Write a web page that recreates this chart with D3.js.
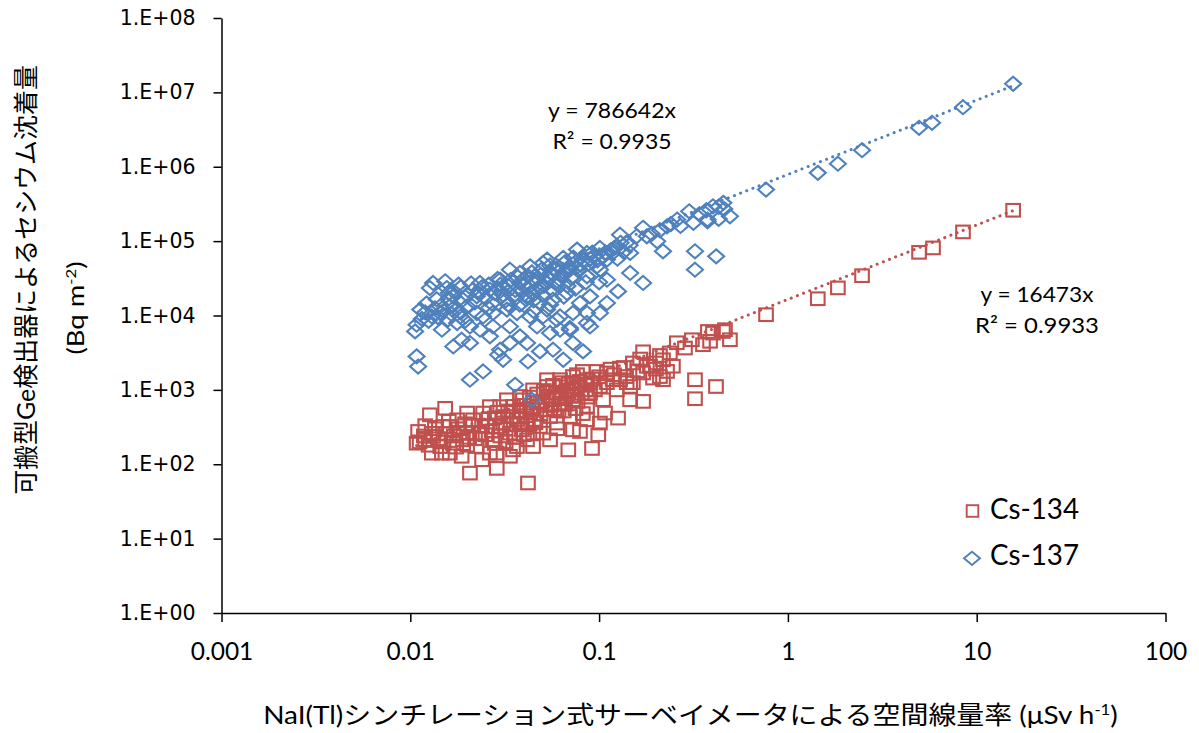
<!DOCTYPE html>
<html>
<head>
<meta charset="utf-8">
<script src="https://cdn.jsdelivr.net/npm/d3@7"></script>
<style>
  body { margin: 0; background: #fff; }
</style>
</head>
<body>
<div id="chart"></div>
<script>
// dose rate (uSv/h) vs deposition (Bq/m2)
var cs134 = [
  [0.0108,192],[0.0110,276],[0.0127,462],[0.0153,565],[0.0132,237],[0.0147,141],[0.0162,322],[0.0207,76],[0.0187,128],[0.0240,115],
  [0.0287,88],[0.0287,141],[0.0420,56],[0.0350,156],[0.0447,173],[0.0687,156],[0.0917,163],[0.0990,249],[0.0792,276],[0.126,417],
  [0.146,736],[0.171,700],[0.1075,488],[0.322,1370],[0.416,1110],[0.322,760],[0.218,1370],[0.171,3250],[0.171,1690],[0.200,2300],
  [0.237,3140],[0.258,4300],[0.310,4720],[0.355,4050],[0.401,5800],[0.464,6440],[0.493,4720],[0.387,4500],[0.285,3650],[0.129,1960],
  [0.151,2300],[0.139,1510],[0.118,1370],[0.101,1110],[0.0863,1370],[0.0764,1600],[0.0621,1370],[0.0530,1110],[0.0621,815],[0.0727,736],
  [0.0863,600],[0.0486,540],[0.0395,736],[0.0350,438],[0.0299,595],[0.0243,488],[0.0215,396],[0.0234,262],[0.0190,213],[0.0168,192],
  [0.0274,213],[0.0337,262],[0.0415,213],[0.0505,262],[0.0598,358],[0.0701,438],[0.0863,396],[0.101,358],[0.0486,322],[0.0381,358],
  [0.0299,322],[0.0225,173],[0.0144,173],[0.0130,141],[0.0120,213],[0.0621,665],[0.0676,1000],[0.0764,1110],[0.0895,905],[0.105,736],
  [0.124,1000],[0.129,1370],[0.110,1690],[0.097,1770],[0.082,1770],[0.0727,1510],[0.0530,1370],[0.0447,1000],[0.0381,815],[0.0325,736],
  [0.0264,595],[0.0200,488],[0.0177,396],[0.0149,322],[0.0255,322],[0.0310,438],[0.0431,488],[0.0550,438],[0.0570,736],[0.0469,665],
  [0.151,1250],[0.179,2080],[0.218,2540],[0.246,2080],[0.193,1440],[0.146,1110],[0.0367,173],[0.0550,213],[0.0727,290],[0.0447,262],
  [0.0200,262],[0.0162,141],[0.0264,141],[0.0337,128],[0.210,1510],[0.229,1770],[0.186,2080],[0.453,6100],[0.377,6100],
  [0.058,560],[0.065,520],[0.075,560],[0.082,480],[0.045,400],[0.052,620],[0.068,880],[0.085,1000],[0.09,1250],[0.072,1250],
  [0.062,1100],[0.038,520],[0.028,420],[0.032,300],[0.042,340],[0.036,230],[0.025,250],[0.018,300],[0.022,220],
  [0.024,330],[0.026,410],[0.027,280],[0.029,500],[0.03,240],[0.031,360],[0.033,520],[0.034,340],[0.035,600],[0.037,400],
  [0.039,290],[0.04,620],[0.041,450],[0.043,800],[0.044,560],[0.046,360],[0.047,880],[0.049,470],[0.05,700],[0.051,980],
  [0.053,540],[0.054,820],[0.056,620],[0.057,1150],[0.059,900],[0.061,520],[0.063,760],[0.064,1250],[0.066,640],[0.067,960],
  [0.069,1200],[0.071,820],[0.074,1000],[0.077,700],[0.079,1300],[0.081,900],[0.084,1150],[0.087,800],[0.092,1400],[0.095,1000],
  [0.1,1500],[0.11,1250],[0.115,1900],[0.12,1600],[0.135,2000],[0.14,1250],[0.16,1800],[0.165,2600],[0.2,1900],[0.21,2900],
  [0.02,180],[0.021,330],[0.017,240],[0.015,200],[0.013,260],[0.028,190],[0.032,200],[0.04,250],[0.06,300],
  [0.0112,200],[0.0118,240],[0.0125,180],[0.0135,300],[0.014,220],[0.0155,260],[0.016,380],[0.0175,170],[0.0182,260],[0.0195,350],
  [0.0205,230],[0.012,330],
  [0.766,10250],[1.44,16800],[1.84,23500],[2.47,34300],[4.95,70700],[5.87,81000],[8.46,133000],[15.6,260000]
];

var cs137 = [
  [0.0110,2060],[0.0108,2820],[0.0106,6110],[0.0108,7520],[0.0113,12000],[0.0127,23400],[0.0132,27400],[0.0153,28800],[0.0156,23400],[0.0169,18100],
  [0.0144,13300],[0.0130,9720],[0.0147,6440],[0.0169,3840],[0.0207,4270],[0.0187,4720],[0.0207,1370],[0.0243,1770],[0.0292,2970],[0.0310,2540],
  [0.0359,1170],[0.0420,2410],[0.0440,736],[0.0486,3290],[0.0646,2540],[0.0822,3290],[0.057,3470],[0.0621,6440],[0.0701,6440],[0.0895,7130],
  [0.101,10800],[0.0863,10800],[0.0727,10800],[0.0598,8780],[0.0505,9720],[0.0415,4270],[0.0381,5240],[0.0337,4270],[0.0299,3470],[0.0264,5240],
  [0.0234,6440],[0.0207,7130],[0.0184,9720],[0.0200,13300],[0.0225,18100],[0.0264,22200],[0.0299,30300],[0.0337,41300],[0.0381,37300],[0.0431,45800],
  [0.0505,50900],[0.0530,56400],[0.0646,59400],[0.0764,76900],[0.0863,69400],[0.101,81000],[0.129,122000],[0.124,85200],[0.146,69400],[0.171,151000],
  [0.179,116000],[0.203,99400],[0.218,72900],[0.229,158000],[0.259,195000],[0.30,252000],[0.316,176000],[0.375,195000],[0.401,294000],[0.455,327000],
  [0.493,216000],[0.322,72900],[0.417,62400],[0.322,41300],[0.171,27400],[0.146,37300],[0.126,21100],[0.110,30300],[0.101,41300],[0.0895,18100],
  [0.110,14700],[0.0792,14700],[0.0676,20100],[0.057,16300],[0.0486,14700],[0.0415,18100],[0.0350,18100],[0.0325,12000],[0.0274,10800],[0.0243,9720],
  [0.0274,7130],[0.0469,7130],[0.053,12000],[0.0621,30300],[0.0727,33600],[0.0863,33600],[0.0975,45800],[0.110,56400],[0.118,69400],[0.139,94600],
  [0.158,116000],[0.0447,30300],[0.053,33600],[0.0381,27400],[0.031,24600],[0.0234,27400],[0.0215,22200],[0.019,16300],[0.0162,13300],[0.0144,10800],
  [0.0177,7930],[0.0225,10800],[0.0367,10800],[0.0431,9720],[0.055,5820],[0.0727,4270],[0.0863,7930],[0.0621,9720],[0.0337,7130],[0.0701,6790],
  [0.028,20000],[0.032,16000],[0.036,22000],[0.04,26000],[0.044,20000],[0.048,24000],[0.052,28000],[0.056,22000],[0.06,26000],[0.065,38000],
  [0.07,44000],[0.075,52000],[0.08,48000],[0.09,58000],[0.095,64000],[0.024,24000],[0.02,19000],[0.017,21000],[0.03,26000],[0.034,30000],
  [0.042,34000],[0.038,14000],[0.045,16000],[0.05,19000],[0.058,42000],[0.068,25000],[0.078,40000],[0.085,28000],[0.105,62000],[0.115,75000],
  [0.125,58000],[0.135,72000],[0.145,88000],[0.19,125000],[0.21,140000],[0.24,170000],[0.27,160000],[0.34,230000],[0.37,260000],[0.43,290000],
  [0.46,270000],[0.43,199000],[0.375,185000],
  [0.022,15000],[0.023,20000],[0.025,17000],[0.026,26000],[0.027,14500],[0.029,23000],[0.031,19000],[0.033,25000],[0.033,14000],[0.035,28000],
  [0.036,17000],[0.037,33000],[0.039,21000],[0.04,31000],[0.041,16500],[0.043,25000],[0.044,38000],[0.046,29000],[0.047,22000],[0.049,35000],
  [0.05,42000],[0.051,25000],[0.054,31000],[0.055,47000],[0.057,36000],[0.059,28000],[0.061,45000],[0.063,34000],[0.066,52000],[0.069,40000],
  [0.071,32000],[0.073,60000],[0.076,45000],[0.082,55000],[0.088,50000],[0.092,70000],[0.098,55000],[0.108,70000],[0.12,80000],[0.13,95000],
  [0.018,26000],[0.016,17000],[0.021,27000],[0.026,12500],[0.029,31000],[0.045,11500],[0.055,14000],[0.065,18000],[0.075,23000],[0.1,28000],
  [0.0115,9000],[0.012,11000],[0.0125,8500],[0.0135,12500],[0.014,9500],[0.015,11500],[0.0158,8800],[0.0165,10500],[0.0175,12000],[0.0185,11000],
  [0.0195,8500],[0.0122,14500],[0.0138,16500],[0.016,20000],[0.0185,24000],
  [0.766,493000],[1.44,828000],[1.84,1100000],[2.47,1670000],[4.95,3340000],[5.80,3900000],[8.46,6320000],[15.6,13060000]
];

var seriesNames = ["Cs-134", "Cs-137"];
var slopes = [16473, 786642];          // trendline y = a x
var rSquared = ["0.9933", "0.9935"];
var xTicks = [0.001, 0.01, 0.1, 1, 10, 100];
var xTickLabels = ["0.001", "0.01", "0.1", "1", "10", "100"];
var yTicks = [1, 10, 100, 1e3, 1e4, 1e5, 1e6, 1e7, 1e8];
var yTickLabels = ["1.E+00", "1.E+01", "1.E+02", "1.E+03", "1.E+04", "1.E+05", "1.E+06", "1.E+07", "1.E+08"];

var colors = ["#C0504D", "#4F81BD"];
var latin = "Lato, 'Noto Sans CJK JP', sans-serif";

var W = 1199, H = 733;
var svg = d3.select("#chart").append("svg")
  .attr("width", W).attr("height", H);

var x = d3.scaleLog().domain([0.001, 100]).range([221.5, 1165.5]);
var y = d3.scaleLog().domain([1, 1e8]).range([613, 18]);

// stretch a text horizontally so it spans a given width
function fitWidth(sel, target) {
  var w = sel.node().getBBox().width;
  sel.attr("transform", "scale(" + (target / w) + ",1)");
}

// axes
var yAxis = svg.append("g")
  .attr("transform", "translate(" + x.range()[0] + ",0)")
  .call(d3.axisLeft(y).tickValues(yTicks)
    .tickFormat(function(d, i) { return yTickLabels[i]; })
    .tickSize(8).tickSizeOuter(0).tickPadding(18));
yAxis.selectAll("text")
  .style("font-family", "'DejaVu Sans', Verdana, sans-serif")
  .style("font-size", "20.5px")
  .attr("fill", "#000");

var xAxis = svg.append("g")
  .attr("transform", "translate(0," + y.range()[0] + ")")
  .call(d3.axisBottom(x).tickValues(xTicks)
    .tickFormat(function(d, i) { return xTickLabels[i]; })
    .tickSize(9).tickSizeOuter(0));
xAxis.selectAll("text")
  .attr("y", 47).attr("dy", "0")
  .style("font-family", latin)
  .style("font-size", "24.5px")
  .attr("fill", "#000");

svg.selectAll(".domain, .tick line")
  .attr("stroke", "#000")
  .attr("stroke-width", 1.5);

// scatter markers
var plot = svg.append("g");

plot.append("g").selectAll("rect")
  .data(cs134)
  .enter().append("rect")
    .attr("x", function(d) { return x(d[0]) - 6.8; })
    .attr("y", function(d) { return y(d[1]) - 6.3; })
    .attr("width", 13.6)
    .attr("height", 12.6)
    .attr("fill", "none")
    .attr("stroke", colors[0])
    .attr("stroke-width", 2.1);

plot.append("g").selectAll("path")
  .data(cs137)
  .enter().append("path")
    .attr("d", function(d) {
      var cx = x(d[0]), cy = y(d[1]);
      return "M" + cx + "," + (cy - 7) + "L" + (cx + 8) + "," + cy +
             "L" + cx + "," + (cy + 7) + "L" + (cx - 8) + "," + cy + "Z";
    })
    .attr("fill", "none")
    .attr("stroke", colors[1])
    .attr("stroke-width", 2.1);

// linear trendlines through origin (straight on log-log)
[cs134, cs137].forEach(function(data, i) {
  var ext = d3.extent(data, function(d) { return d[0]; });
  var line = d3.line()
    .x(function(v) { return x(v); })
    .y(function(v) { return y(slopes[i] * v); });
  plot.append("path")
    .datum(ext)
    .attr("d", line)
    .attr("fill", "none")
    .attr("stroke", colors[i])
    .attr("stroke-width", 3)
    .attr("stroke-linecap", "round")
    .attr("stroke-dasharray", "0.1 6.5");
});

// trendline equations
var eqPos = [
  {x: 1037, y1: 302, y2: 333, w1: 113, w2: 124},
  {x: 612, y1: 118, y2: 149, w1: 128, w2: 119}
];
eqPos.forEach(function(p, i) {
  var g1 = svg.append("g").attr("transform", "translate(" + p.x + "," + p.y1 + ")");
  var t1 = g1.append("text")
    .attr("text-anchor", "middle")
    .style("font-family", latin).style("font-size", "22px")
    .text("y = " + slopes[i] + "x");
  fitWidth(t1, p.w1);
  var g2 = svg.append("g").attr("transform", "translate(" + p.x + "," + p.y2 + ")");
  var t2 = g2.append("text")
    .attr("text-anchor", "middle")
    .style("font-family", latin).style("font-size", "22px")
    .text("R\u00B2 = " + rSquared[i]);
  fitWidth(t2, p.w2);
});

// legend
var legend = svg.append("g");
legend.append("rect")
  .attr("x", 966.7).attr("y", 505.2)
  .attr("width", 11.6).attr("height", 11.6)
  .attr("fill", "none").attr("stroke", colors[0]).attr("stroke-width", 1.9);
legend.append("path")
  .attr("d", "M972,551.7L980,558.3L972,565L964,558.3Z")
  .attr("fill", "none").attr("stroke", colors[1]).attr("stroke-width", 1.9);
[519, 565].forEach(function(by, i) {
  var g = legend.append("g").attr("transform", "translate(990," + by + ")");
  var t = g.append("text")
    .style("font-family", latin).style("font-size", "28px")
    .text(seriesNames[i]);
  fitWidth(t, 89);
});

// axis titles
var xt = svg.append("g").attr("transform", "translate(690.5,724)");
var xText = xt.append("text")
  .attr("text-anchor", "middle")
  .style("font-family", latin).style("font-size", "25px");
xText.append("tspan").text("NaI(Tl)シンチレーション式サーベイメータによる空間線量率 (μSv h");
xText.append("tspan").attr("dy", -9).style("font-size", "15px").text("-1");
xText.append("tspan").attr("dy", 9).text(")");
fitWidth(xText, 855);

var yt1 = svg.append("g").attr("transform", "translate(35,280) rotate(-90)");
var yText1 = yt1.append("text")
  .attr("text-anchor", "middle")
  .style("font-family", latin).style("font-size", "25px")
  .text("可搬型Ge検出器によるセシウム沈着量");
fitWidth(yText1, 430);

var yt2 = svg.append("g").attr("transform", "translate(84,308) rotate(-90)");
var yText2 = yt2.append("text")
  .attr("text-anchor", "middle")
  .style("font-family", latin).style("font-size", "23px");
yText2.append("tspan").text("(Bq m");
yText2.append("tspan").attr("dy", -8).style("font-size", "14px").text("-2");
yText2.append("tspan").attr("dy", 8).text(")");
fitWidth(yText2, 93);
</script>
</body>
</html>
